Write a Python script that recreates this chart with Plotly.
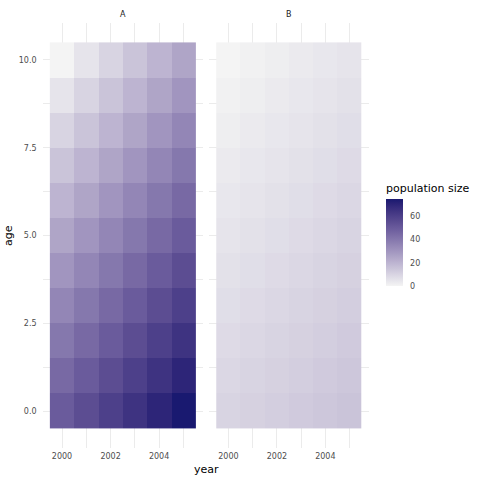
import plotly.graph_objects as go

years = [2000, 2001, 2002, 2003, 2004, 2005]
ages = [0, 1, 2, 3, 4, 5, 6, 7, 8, 9, 10]

# population size, rows = age 0..10, columns = years 2000..2005
pop_A = [
    [50, 55, 60, 65, 70, 75],
    [45, 50, 55, 60, 65, 70],
    [40, 45, 50, 55, 60, 65],
    [35, 40, 45, 50, 55, 60],
    [30, 35, 40, 45, 50, 55],
    [25, 30, 35, 40, 45, 50],
    [20, 25, 30, 35, 40, 45],
    [15, 20, 25, 30, 35, 40],
    [10, 15, 20, 25, 30, 35],
    [5, 10, 15, 20, 25, 30],
    [0, 5, 10, 15, 20, 25],
]
pop_B = [
    [10, 11, 12, 13, 14, 15],
    [9, 10, 11, 12, 13, 14],
    [8, 9, 10, 11, 12, 13],
    [7, 8, 9, 10, 11, 12],
    [6, 7, 8, 9, 10, 11],
    [5, 6, 7, 8, 9, 10],
    [4, 5, 6, 7, 8, 9],
    [3, 4, 5, 6, 7, 8],
    [2, 3, 4, 5, 6, 7],
    [1, 2, 3, 4, 5, 6],
    [0, 1, 2, 3, 4, 5],
]
facets = ["A", "B"]
x_ticks = [2000, 2002, 2004]
y_ticks = [0, 2.5, 5, 7.5, 10]
y_ticklabels = ["0.0", "2.5", "5.0", "7.5", "10.0"]
cbar_ticks = [0, 20, 40, 60]

# ---- Lab-space gradient (like ggplot's scale_fill_gradient) ----
def hex_to_rgb(h):
    h = h.lstrip("#")
    return [int(h[i:i + 2], 16) / 255 for i in (0, 2, 4)]

def srgb_to_lin(c):
    return c / 12.92 if c <= 0.04045 else ((c + 0.055) / 1.055) ** 2.4

def lin_to_srgb(c):
    c = max(0.0, min(1.0, c))
    return 12.92 * c if c <= 0.0031308 else 1.055 * c ** (1 / 2.4) - 0.055

Xn, Yn, Zn = 0.95047, 1.0, 1.08883

def f(t):
    return t ** (1 / 3) if t > 0.008856 else 7.787 * t + 16 / 116

def finv(t):
    return t ** 3 if t ** 3 > 0.008856 else (t - 16 / 116) / 7.787

def rgb_to_lab(rgb):
    r, g, b = [srgb_to_lin(c) for c in rgb]
    X = 0.4124 * r + 0.3576 * g + 0.1805 * b
    Y = 0.2126 * r + 0.7152 * g + 0.0722 * b
    Z = 0.0193 * r + 0.1192 * g + 0.9505 * b
    fx, fy, fz = f(X / Xn), f(Y / Yn), f(Z / Zn)
    return [116 * fy - 16, 500 * (fx - fy), 200 * (fy - fz)]

def lab_to_rgb(lab):
    L, a, b = lab
    fy = (L + 16) / 116
    fx = fy + a / 500
    fz = fy - b / 200
    X, Y, Z = Xn * finv(fx), Yn * finv(fy), Zn * finv(fz)
    r = 3.2406 * X - 1.5372 * Y - 0.4986 * Z
    g = -0.9689 * X + 1.8758 * Y + 0.0415 * Z
    bb = 0.0557 * X - 0.2040 * Y + 1.0570 * Z
    return [round(lin_to_srgb(c) * 255) for c in (r, g, bb)]

low, high = "#f4f4f4", "#191970"
l1, l2 = rgb_to_lab(hex_to_rgb(low)), rgb_to_lab(hex_to_rgb(high))
colorscale = []
n = 20
for i in range(n + 1):
    t = i / n
    lab = [l1[k] + (l2[k] - l1[k]) * t for k in range(3)]
    r, g, b = lab_to_rgb(lab)
    colorscale.append([t, f"rgb({r},{g},{b})"])

fig = go.Figure()
for i, (name, z) in enumerate(zip(facets, [pop_A, pop_B])):
    suffix = "" if i == 0 else str(i + 1)
    fig.add_trace(go.Heatmap(
        x=years, y=ages, z=z, coloraxis="coloraxis",
        xaxis="x" + suffix, yaxis="y" + suffix,
        hovertemplate="year=%{x}<br>age=%{y}<br>population size=%{z}<extra>" + name + "</extra>",
    ))

grid_major = "#ebebeb"
tick_font = dict(family="DejaVu Sans", size=8, color="#4d4d4d")

x_domains = [[42.6 / 480, 202.8 / 480], [209 / 480, 369 / 480]]
y_domain = [1 - 447.9 / 480, 1 - 23.1 / 480]

layout = dict(
    width=480, height=480,
    margin=dict(l=0, r=0, t=0, b=0, autoexpand=False),
    paper_bgcolor="white", plot_bgcolor="white",
    showlegend=False,
    coloraxis=dict(
        colorscale=colorscale, cmin=0, cmax=75,
        colorbar=dict(
            title=dict(text="population size", side="top",
                       font=dict(family="DejaVu Sans", size=11, color="black")),
            x=386 / 480, xanchor="left", xpad=0,
            y=1 - 286 / 480, yanchor="bottom", ypad=0,
            thickness=17, thicknessmode="pixels",
            len=105, lenmode="pixels",
            outlinewidth=0,
            tickvals=cbar_ticks, ticks="outside", ticklen=6, tickcolor="rgba(0,0,0,0)",
            tickfont=tick_font,
        ),
    ),
)
for i in range(2):
    suffix = "" if i == 0 else str(i + 1)
    layout["xaxis" + suffix] = dict(
        domain=x_domains[i], range=[1999.2, 2005.8],
        anchor="y" + suffix,
        tickvals=x_ticks, ticks="", showline=False, zeroline=False,
        showgrid=True, gridcolor=grid_major, gridwidth=1,
        minor=dict(tickvals=[2001, 2003, 2005], showgrid=True, gridcolor=grid_major, gridwidth=0.6),
        tickfont=tick_font, automargin=False, ticklabelstandoff=2,
    )
    layout["yaxis" + suffix] = dict(
        domain=y_domain, range=[-1.05, 11.05],
        anchor="x" + suffix,
        tickvals=y_ticks, ticktext=y_ticklabels if i == 0 else None,
        showticklabels=(i == 0),
        ticks="", showline=False, zeroline=False,
        showgrid=True, gridcolor=grid_major, gridwidth=1,
        minor=dict(tickvals=[1.25, 3.75, 6.25, 8.75], showgrid=True, gridcolor=grid_major, gridwidth=0.6),
        tickfont=tick_font, automargin=False, ticklabelstandoff=5,
    )
fig.update_layout(**layout)

annots = [
    dict(text="A", x=(x_domains[0][0] + x_domains[0][1]) / 2, y=1 - 14 / 480),
    dict(text="B", x=(x_domains[1][0] + x_domains[1][1]) / 2, y=1 - 14 / 480),
]
for a in annots:
    fig.add_annotation(xref="paper", yref="paper", x=a["x"], y=a["y"], text=a["text"],
                       showarrow=False, xanchor="center", yanchor="middle",
                       font=dict(family="DejaVu Sans", size=8, color="#1a1a1a"))
fig.add_annotation(xref="paper", yref="paper", x=206 / 480, y=1 - 469 / 480, text="year",
                   showarrow=False, xanchor="center", yanchor="middle",
                   font=dict(family="DejaVu Sans", size=11, color="black"))
fig.add_annotation(xref="paper", yref="paper", x=8 / 480, y=1 - 236 / 480, text="age",
                   showarrow=False, xanchor="center", yanchor="middle", textangle=-90,
                   font=dict(family="DejaVu Sans", size=11, color="black"))

fig.write_html("out.html", config={"displayModeBar": False},
               post_script="document.body.style.margin='0';document.body.style.overflow='hidden';")
